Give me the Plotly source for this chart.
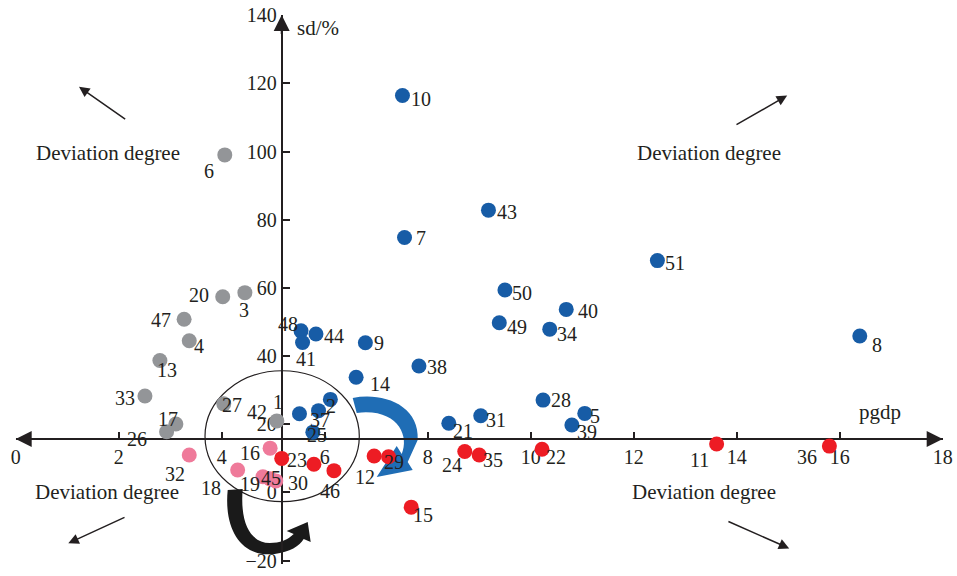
import plotly.graph_objects as go

# ---------------- data ----------------
grey_ids = ["6", "20", "3", "47", "4", "13", "33", "17", "26", "27", "42"]
grey_pgdp = [4.06, 4.02, 4.45, 3.27, 3.37, 2.80, 2.51, 3.11, 2.93, 4.04, 5.07]
grey_sd = [99.0, 57.4, 58.6, 50.8, 44.5, 38.7, 28.3, 20.1, 17.8, 26.0, 21.0]

blue_ids = ["10", "7", "43", "51", "50", "40", "49", "34", "8", "48", "41", "44",
            "9", "38", "14", "2", "37", "1", "25", "21", "31", "28", "5", "39"]
blue_pgdp = [7.51, 7.55, 9.18, 12.46, 9.50, 10.69, 9.39, 10.37, 16.39, 5.54, 5.57, 5.83,
             6.79, 7.83, 6.61, 6.11, 5.88, 5.51, 5.77, 8.41, 9.03, 10.24, 11.05, 10.80]
blue_sd = [116.4, 74.8, 82.8, 68.0, 59.4, 53.7, 49.8, 47.9, 45.9, 47.4, 44.0, 46.5,
           43.9, 37.1, 33.8, 27.3, 24.0, 23.1, 17.7, 20.3, 22.5, 27.1, 23.2, 19.8]

red_ids = ["23", "", "46", "12", "29", "24", "35", "22", "15", "11", "36"]
red_pgdp = [5.165, 5.79, 6.18, 6.96, 7.24, 8.72, 9.00, 10.22, 7.68, 13.61, 15.80]
red_sd = [10.0, 8.3, 6.4, 10.7, 10.5, 12.0, 11.0, 12.7, -4.3, 14.2, 13.6]

pink_ids = ["32", "16", "18", "19", "45", "30"]
pink_pgdp = [3.37, 4.94, 4.31, 4.80, 4.94, 5.05]
pink_sd = [11.0, 13.0, 6.6, 4.6, 4.0, 3.4]

x_ticks = [0, 2, 4, 6, 8, 10, 12, 14, 16, 18]
y_ticks = [-20, 0, 20, 40, 60, 80, 100, 120, 140]
x_cross = 5.165   # where the vertical axis crosses
y_cross = 15.7    # where the horizontal axis crosses

# ---------------- label placement (pixel offsets, right / down) ----------------
label_off = {
    "grey": [(-16, 16), (-24, -2), (-1, 17), (-23, 1), (10, 5), (7, 9), (-20, 2),
             (-8, -5), (-30, 7), (8, 1), (-20, -9)],
    "blue": [(19, 3), (16, 1), (19, 2), (18, 2), (17, 3), (22, 2), (18, 4), (17, 5),
             (17, 9), (-13, -7), (3, 17), (18, 2), (14, 0), (18, 1), (24, 7), (1, 7),
             (1, 9), (-21, -12), (4, 3), (14, 8), (15, 4), (18, 0), (10, 3), (15, 7)],
    "red": [(15, 2), (10, -6), (-4, 20), (-9, 21), (5, 5), (-13, 13), (14, 5), (14, 8),
            (12, 8), (-17, 16), (-22, 11)],
    "pink": [(-14, 19), (-20, 5), (-27, 18), (-13, 7), (1, -1), (22, 2)],
}

COL = {"grey": "#939598", "blue": "#175ca6", "red": "#ed1c24", "pink": "#ef7a9a"}
INK = "#231f20"
FONT = "Liberation Serif"

groups = [
    ("grey", grey_ids, grey_pgdp, grey_sd),
    ("blue", blue_ids, blue_pgdp, blue_sd),
    ("red", red_ids, red_pgdp, red_sd),
    ("pink", pink_ids, pink_pgdp, pink_sd),
]

fig = go.Figure()
annotations = []
for name, ids, xs, ys in groups:
    fig.add_trace(go.Scatter(
        x=xs, y=ys, mode="markers", name=name, cliponaxis=False,
        marker=dict(size=15, color=COL[name], line=dict(width=0)),
        hoverinfo="x+y+text", text=ids, showlegend=False))
    for i, (lab, xv, yv) in enumerate(zip(ids, xs, ys)):
        if not lab:
            continue
        dx, dy = label_off[name][i]
        annotations.append(dict(x=xv, y=yv, xref="x", yref="y", text=lab,
                                showarrow=False, xshift=dx, yshift=-dy,
                                font=dict(family=FONT, size=20, color=INK)))

# ---------------- layout geometry ----------------
W, H = 957, 576
x_dom = [15.7 / W, 942.7 / W]
y_rng = [-21, 140]
y_dom = [(H - 564.1) / H, (H - 15.1) / H]
x_rng = [0, 18]
xpos = y_dom[0] + (y_cross - y_rng[0]) / (y_rng[1] - y_rng[0]) * (y_dom[1] - y_dom[0])
ypos = x_dom[0] + (x_cross - x_rng[0]) / (x_rng[1] - x_rng[0]) * (x_dom[1] - x_dom[0])

axis_common = dict(showgrid=False, zeroline=False, showline=True, linecolor=INK,
                   linewidth=2, ticks="inside", tickcolor=INK, tickwidth=1.5,
                   layer="below traces", automargin=False,
                   tickfont=dict(family=FONT, size=20, color=INK))

fig.update_layout(
    width=W, height=H, margin=dict(l=0, r=0, t=0, b=0, pad=0, autoexpand=False),
    paper_bgcolor="white", plot_bgcolor="white",
    xaxis=dict(range=x_rng, domain=x_dom, anchor="free", position=xpos,
               tickvals=x_ticks, ticklen=6, **axis_common),
    yaxis=dict(range=y_rng, domain=y_dom, anchor="free", position=ypos,
               tickvals=y_ticks, ticklen=7, **axis_common),
)

# axis arrowheads
for (tx, ty, bx, by) in [(18, y_cross, 17.4, y_cross), (0, y_cross, 0.6, y_cross),
                         (x_cross, 140, x_cross, 134)]:
    annotations.append(dict(x=tx, y=ty, ax=bx, ay=by, xref="x", yref="y",
                            axref="x", ayref="y", text="", showarrow=True,
                            arrowhead=2, arrowsize=1.6, arrowwidth=2, arrowcolor=INK))

# axis titles
annotations.append(dict(x=x_cross, y=140, xref="x", yref="y", text="sd/%",
                        showarrow=False, xanchor="left", xshift=13, yshift=-13,
                        font=dict(family=FONT, size=21, color=INK)))
annotations.append(dict(x=18, y=y_cross, xref="x", yref="y", text="pgdp",
                        showarrow=False, xshift=-63, yshift=27,
                        font=dict(family=FONT, size=21, color=INK)))

# quadrant captions and direction arrows
captions = [(1.80, 99.7), (13.46, 99.7), (1.77, 0.2), (13.37, 0.2)]
for cx, cy in captions:
    annotations.append(dict(x=cx, y=cy, xref="x", yref="y", text="Deviation degree",
                            showarrow=False, font=dict(family=FONT, size=21, color=INK)))
dir_arrows = [((1.229, 119.0), (2.155, 109.2)), ((14.98, 116.4), (13.967, 107.6)),
              ((1.021, -14.9), (2.142, -7.1)), ((15.02, -16.4), (13.81, -8.3))]
for (tx, ty), (bx, by) in dir_arrows:
    annotations.append(dict(x=tx, y=ty, ax=bx, ay=by, xref="x", yref="y",
                            axref="x", ayref="y", text="", showarrow=True,
                            arrowhead=2, arrowsize=1.4, arrowwidth=1.5, arrowcolor=INK))

fig.update_layout(annotations=annotations)

# ellipse around the centre
fig.add_shape(type="circle", xref="x", yref="y", x0=3.676, x1=6.672, y0=-2.7, y1=35.7,
              line=dict(color=INK, width=1.2), layer="below")

# curved arrows (pixel offsets from the axes crossing point, y up)
blue_path = ("M 71,41 C 101,47 138,34 136,-1 L 126,-23 L 131,-31 L 95,-38 "
             "L 115,-7 L 120,-15 C 128,3 116,31 75,26 Z")
black_path = ("M -54,-51 C -58,-91 -40,-119 -7,-115 C 8,-113 18,-107 22,-100 "
              "L 29,-103 L 26,-83 L 5,-92 L 12,-95 "
              "C 6,-101 -2,-104 -12,-104 C -30,-104 -42,-86 -39,-50 Z")
for path, col in [(blue_path, "#1f6db5"), (black_path, "#1a1a1a")]:
    fig.add_shape(type="path", xref="x", yref="y", xsizemode="pixel", ysizemode="pixel",
                  xanchor=x_cross, yanchor=y_cross, path=path, fillcolor=col,
                  line=dict(width=0), layer="below")

fig.write_html("out.html", config={"displayModeBar": False},
               post_script="document.body.style.margin='0';"
                           "document.body.style.overflow='hidden';")
